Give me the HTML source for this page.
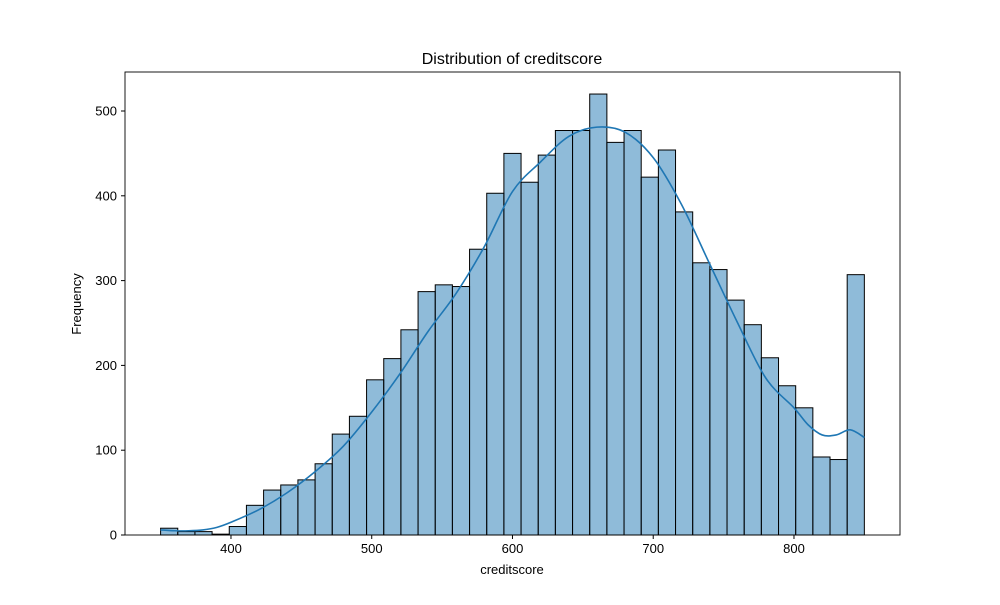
<!DOCTYPE html>
<html><head><meta charset="utf-8"><style>
body{margin:0;background:#fff;}
text{font-family:"Liberation Sans","DejaVu Sans",sans-serif;}
</style></head><body>
<svg id="chart" width="1000" height="600" xmlns="http://www.w3.org/2000/svg">
<rect width="1000" height="600" fill="#fff"/>
<g id="bars"></g><g id="kde"></g><g id="axes"></g>
</svg>
<script>
const binStart = 350;
const binWidth = 500/41;
const counts = [8,4,4,1,10,35,53,59,65,84,119,140,183,208,242,287,295,293,337,403,450,416,448,477,477,520,463,477,422,454,381,321,313,277,248,209,176,150,92,89,307];
const kdeX = [350,360,370,380,390,400,420,440,460,480,500,520,540,560,580,600,620,640,660,680,700,720,740,760,780,800,810,820,830,840,850];
const kdeY = [6,5,5,6,9,15,30,50,75,105,145,190,240,285,340,405,440,470,481,475,445,390,320,250,185,150,130,118,118,124,115];
const xTicks = [400,500,600,700,800];
const yTicks = [0,100,200,300,400,500];
const L=125,R=900,T=72,B=535;
const xs=v=>160.6+(v-350)*1.4075;
const ys=v=>B-v*0.848;
const NS='http://www.w3.org/2000/svg';
function mk(tag,attrs,parent){const e=document.createElementNS(NS,tag);for(const k in attrs)e.setAttribute(k,attrs[k]);parent.appendChild(e);return e;}
const gb=document.getElementById('bars');
counts.forEach((c,i)=>{
 const x0=xs(binStart+i*binWidth),x1=xs(binStart+(i+1)*binWidth);
 const r=mk('rect',{x:x0,y:ys(c),width:x1-x0,height:B-ys(c),fill:'rgba(31,119,180,0.5)',stroke:'#000','stroke-width':1},gb);
 
 
});
const gk=document.getElementById('kde');
const pts=kdeX.map((x,i)=>[xs(x),ys(kdeY[i])]);
let d='M'+pts[0][0]+','+pts[0][1];
for(let i=0;i<pts.length-1;i++){
 const p0=pts[Math.max(0,i-1)],p1=pts[i],p2=pts[i+1],p3=pts[Math.min(pts.length-1,i+2)];
 const c1=[p1[0]+(p2[0]-p0[0])/6,p1[1]+(p2[1]-p0[1])/6];
 const c2=[p2[0]-(p3[0]-p1[0])/6,p2[1]-(p3[1]-p1[1])/6];
 d+=' C'+c1+' '+c2+' '+p2;
}
const p=mk('path',{d:d,fill:'none',stroke:'#1f77b4','stroke-width':1.6},gk);


const ga=document.getElementById('axes');
const fr=mk('rect',{x:L,y:T,width:R-L,height:B-T,fill:'none',stroke:'#000','stroke-width':0.9},ga);


xTicks.forEach(t=>{
 mk('line',{x1:xs(t),x2:xs(t),y1:B,y2:B+4,stroke:'#000'},ga);
 const tx=mk('text',{x:xs(t),y:B+18,'text-anchor':'middle','font-size':13},ga);tx.textContent=t;
 
 
});
yTicks.forEach(t=>{
 mk('line',{x1:L-4,x2:L,y1:ys(t),y2:ys(t),stroke:'#000'},ga);
 const tx=mk('text',{x:L-8,y:ys(t)+4.5,'text-anchor':'end','font-size':13},ga);tx.textContent=t;
 
 
});
</script>
<svg width="1000" height="600" style="position:absolute;left:0;top:0" xmlns="http://www.w3.org/2000/svg">
<text x="512" y="64" text-anchor="middle" font-size="16">Distribution of creditscore</text>
<text x="512" y="574" text-anchor="middle" font-size="13">creditscore</text>
<text x="81" y="304" text-anchor="middle" font-size="13" transform="rotate(-90 81 304)">Frequency</text>
</svg>
</body></html>
